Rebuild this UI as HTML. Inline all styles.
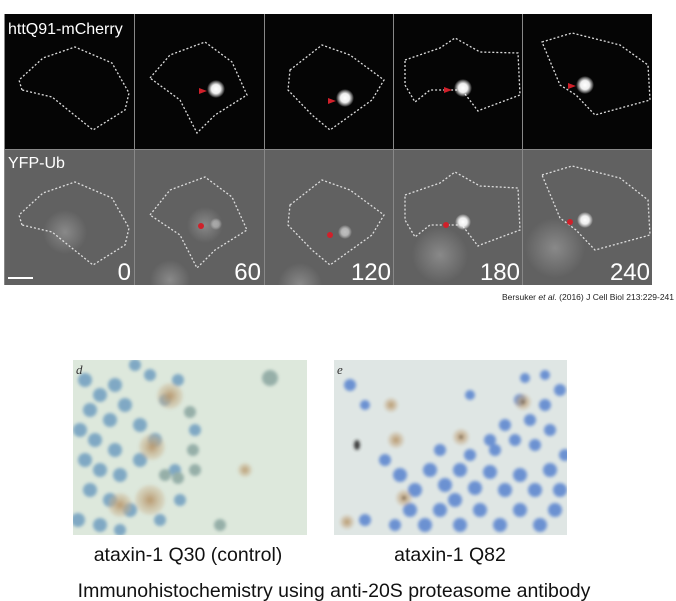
<!DOCTYPE html>
<html><head><meta charset="utf-8"><style>
html,body{margin:0;padding:0;background:#fff;width:676px;height:601px;overflow:hidden;font-family:"Liberation Sans",sans-serif}
</style></head><body>
<svg width="676" height="601" viewBox="0 0 676 601" xmlns="http://www.w3.org/2000/svg">
<defs>
<radialGradient id="spot"><stop offset="0" stop-color="#fff"/><stop offset="0.5" stop-color="#eee"/><stop offset="1" stop-color="#fff" stop-opacity="0"/></radialGradient>
<radialGradient id="glow"><stop offset="0" stop-color="#9a9a9a"/><stop offset="1" stop-color="#9a9a9a" stop-opacity="0"/></radialGradient>
<radialGradient id="brown"><stop offset="0" stop-color="#b08a5a"/><stop offset="1" stop-color="#c8ad88" stop-opacity="0.3"/></radialGradient>
<filter id="blur"><feGaussianBlur stdDeviation="1.5"/></filter>
<clipPath id="clipTop"><rect x="4" y="14" width="648" height="271"/></clipPath>
<clipPath id="clipD"><rect x="73" y="360" width="234" height="175"/></clipPath>
<clipPath id="clipE"><rect x="334" y="360" width="233" height="175"/></clipPath>
</defs>
<!-- top panels -->
<g clip-path="url(#clipTop)">
<rect x="4" y="14" width="648" height="271" fill="#888"/>
<rect x="5" y="14" width="129" height="135" fill="#050505"/>
<rect x="135" y="14" width="129" height="135" fill="#050505"/>
<rect x="265" y="14" width="128" height="135" fill="#050505"/>
<rect x="394" y="14" width="128" height="135" fill="#050505"/>
<rect x="523" y="14" width="129" height="135" fill="#050505"/>
<g fill="#616161">
<rect x="5" y="150" width="129" height="135"/><rect x="135" y="150" width="129" height="135"/><rect x="265" y="150" width="128" height="135"/><rect x="394" y="150" width="128" height="135"/><rect x="523" y="150" width="129" height="135"/>
</g>
<g fill="url(#glow)" opacity="0.7">
<circle cx="65" cy="232" r="22"/><circle cx="205" cy="225" r="18"/><circle cx="440" cy="255" r="28"/><circle cx="555" cy="248" r="30"/><circle cx="170" cy="280" r="20"/><circle cx="300" cy="285" r="22"/>
</g>
<g fill="none" stroke="#ddd" stroke-width="1.3" stroke-dasharray="2,2">
<path d="M22,90 L19,80 43,58 75,47 112,63 129,93 125,110 93,130 52,97 Z"/>
<path d="M150,78 L170,55 205,42 232,62 247,95 215,115 197,133 180,100 Z"/>
<path d="M290,70 L322,45 350,55 384,80 372,100 330,130 312,115 288,90 Z"/>
<path d="M405,60 L440,48 455,38 480,52 518,53 520,95 480,110 478,111 462,90 430,90 415,102 405,85 Z"/>
<path d="M542,42 L572,33 620,45 648,65 650,100 595,115 576,95 560,85 Z"/>
<path d="M22,225 L19,215 43,193 75,182 112,198 129,228 125,245 93,265 52,232 Z"/>
<path d="M150,215 L170,190 205,177 232,197 247,230 215,250 197,268 180,235 Z"/>
<path d="M290,205 L322,180 350,190 384,215 372,235 330,265 312,250 288,225 Z"/>
<path d="M405,195 L440,183 455,172 480,186 518,188 520,230 480,245 478,246 462,225 430,225 415,237 405,220 Z"/>
<path d="M542,175 L572,166 620,178 648,200 650,235 595,250 576,230 560,218 Z"/>
</g>
<g fill="url(#spot)">
<circle cx="216" cy="89" r="9"/><circle cx="345" cy="98" r="9"/><circle cx="463" cy="88" r="9"/><circle cx="585" cy="85" r="9"/>
<circle cx="216" cy="224" r="6" opacity="0.4"/><circle cx="345" cy="232" r="7" opacity="0.6"/><circle cx="463" cy="222" r="8"/><circle cx="585" cy="220" r="8"/>
</g>
<g fill="#d0202a">
<polygon points="199,88 207,91 199,94"/><polygon points="328,98 336,101 328,104"/><polygon points="444,87 452,90 444,93"/><polygon points="568,83 576,86 568,89"/>
<circle cx="201" cy="226" r="3"/><circle cx="330" cy="235" r="3"/><circle cx="446" cy="225" r="3"/><circle cx="570" cy="222" r="3"/>
</g>
<text x="8" y="34" fill="#fff" font-size="16">httQ91-mCherry</text>
<text x="8" y="168" fill="#fff" font-size="16">YFP-Ub</text>
<g fill="#fff" font-size="24" text-anchor="end">
<text x="131" y="280">0</text><text x="261" y="280">60</text><text x="391" y="280">120</text><text x="520" y="280">180</text><text x="650" y="280">240</text>
</g>
<rect x="8" y="277" width="25" height="2" fill="#fff"/>
</g>
<text x="674" y="300" font-size="8.5" text-anchor="end" fill="#222">Bersuker <tspan font-style="italic">et al.</tspan> (2016) J Cell Biol 213:229-241</text>
<!-- bottom images -->
<g clip-path="url(#clipD)">
<rect x="73" y="360" width="234" height="175" fill="#dde8dc"/>
<g filter="url(#blur)" opacity="0.85">
<g fill="#6f9ec0">
<circle cx="85" cy="380" r="7"/><circle cx="100" cy="395" r="7"/><circle cx="115" cy="385" r="7"/><circle cx="90" cy="410" r="7"/><circle cx="110" cy="420" r="7"/><circle cx="125" cy="405" r="7"/><circle cx="140" cy="425" r="7"/><circle cx="95" cy="440" r="7"/><circle cx="115" cy="450" r="7"/><circle cx="85" cy="460" r="7"/><circle cx="100" cy="470" r="7"/><circle cx="120" cy="475" r="7"/><circle cx="140" cy="460" r="7"/><circle cx="90" cy="490" r="7"/><circle cx="110" cy="500" r="7"/><circle cx="130" cy="510" r="7"/><circle cx="155" cy="440" r="7"/><circle cx="80" cy="430" r="7"/><circle cx="165" cy="400" r="6"/><circle cx="175" cy="470" r="6"/><circle cx="160" cy="520" r="6"/><circle cx="180" cy="500" r="6"/><circle cx="195" cy="430" r="6"/><circle cx="178" cy="380" r="6"/><circle cx="78" cy="520" r="7"/><circle cx="100" cy="525" r="7"/><circle cx="120" cy="530" r="6"/><circle cx="150" cy="375" r="6"/><circle cx="135" cy="365" r="6"/>
</g>
<g fill="#8aa6a0"><circle cx="165" cy="475" r="6"/><circle cx="178" cy="478" r="6"/><circle cx="193" cy="450" r="6"/><circle cx="270" cy="378" r="8"/><circle cx="220" cy="525" r="6"/><circle cx="195" cy="470" r="6"/><circle cx="190" cy="412" r="6"/></g>
<g fill="url(#brown)"><circle cx="170" cy="396" r="13"/><circle cx="152" cy="447" r="13"/><circle cx="150" cy="500" r="15"/><circle cx="120" cy="505" r="12"/><circle cx="245" cy="470" r="7"/></g>
</g>
<text x="76" y="374" font-size="13" font-style="italic" font-family="Liberation Serif,serif" fill="#333">d</text>
</g>
<g clip-path="url(#clipE)">
<rect x="334" y="360" width="233" height="175" fill="#dfe6e4"/>
<g filter="url(#blur)" opacity="0.9">
<g fill="#5f88d0">
<circle cx="400" cy="475" r="7"/><circle cx="415" cy="490" r="7"/><circle cx="430" cy="470" r="7"/><circle cx="445" cy="485" r="7"/><circle cx="460" cy="470" r="7"/><circle cx="475" cy="488" r="7"/><circle cx="490" cy="472" r="7"/><circle cx="505" cy="490" r="7"/><circle cx="520" cy="475" r="7"/><circle cx="535" cy="490" r="7"/><circle cx="550" cy="470" r="7"/><circle cx="560" cy="490" r="7"/><circle cx="410" cy="510" r="7"/><circle cx="425" cy="525" r="7"/><circle cx="440" cy="510" r="7"/><circle cx="460" cy="525" r="7"/><circle cx="480" cy="510" r="7"/><circle cx="500" cy="525" r="7"/><circle cx="520" cy="510" r="7"/><circle cx="540" cy="525" r="7"/><circle cx="555" cy="510" r="7"/><circle cx="470" cy="455" r="6"/><circle cx="495" cy="450" r="6"/><circle cx="515" cy="440" r="6"/><circle cx="535" cy="445" r="6"/><circle cx="550" cy="430" r="6"/><circle cx="530" cy="420" r="6"/><circle cx="505" cy="425" r="6"/><circle cx="545" cy="405" r="6"/><circle cx="560" cy="390" r="6"/><circle cx="520" cy="400" r="6"/><circle cx="490" cy="440" r="6"/><circle cx="440" cy="450" r="6"/><circle cx="385" cy="460" r="6"/><circle cx="365" cy="520" r="6"/><circle cx="395" cy="525" r="6"/><circle cx="470" cy="395" r="5"/><circle cx="350" cy="385" r="6"/><circle cx="365" cy="405" r="5"/><circle cx="455" cy="500" r="7"/><circle cx="565" cy="455" r="6"/><circle cx="545" cy="375" r="5"/><circle cx="525" cy="378" r="5"/>
</g>
<g fill="url(#brown)"><circle cx="461" cy="437" r="8"/><circle cx="396" cy="440" r="8"/><circle cx="523" cy="402" r="8"/><circle cx="404" cy="498" r="8"/><circle cx="347" cy="522" r="7"/><circle cx="391" cy="405" r="7"/></g>
<g fill="#2a2a2a"><circle cx="461" cy="437" r="1.5"/><circle cx="523" cy="402" r="1.5"/><circle cx="404" cy="498" r="1.5"/><ellipse cx="357" cy="445" rx="3" ry="5"/></g>
</g>
<text x="337" y="374" font-size="13" font-style="italic" font-family="Liberation Serif,serif" fill="#333">e</text>
</g>
<text x="188" y="561" font-size="19.5" text-anchor="middle" fill="#111">ataxin-1 Q30 (control)</text>
<text x="450" y="561" font-size="19.5" text-anchor="middle" fill="#111">ataxin-1 Q82</text>
<text x="334" y="597" font-size="19.5" text-anchor="middle" fill="#111">Immunohistochemistry using anti-20S proteasome antibody</text>
</svg>
</body></html>
